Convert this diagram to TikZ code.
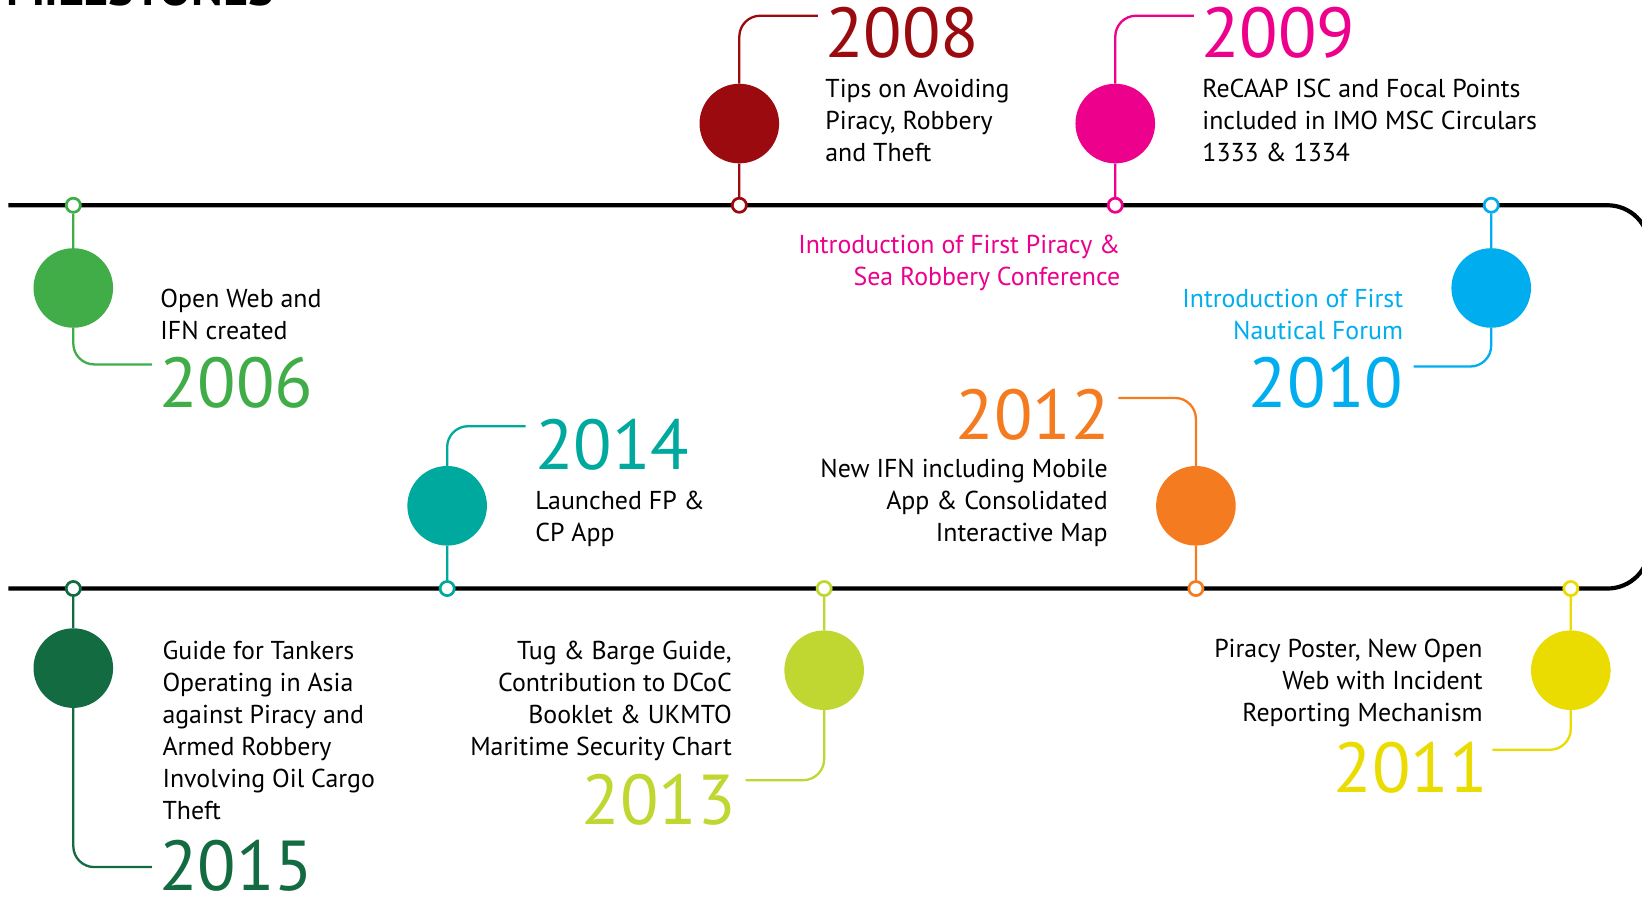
\documentclass[tikz,border=0pt]{standalone}
\usepackage{fontspec}
\setmainfont{PT Sans}
\usetikzlibrary{positioning}

\definecolor{cgreen}{HTML}{40AD48}
\definecolor{cdarkred}{HTML}{9A0A0F}
\definecolor{cmagenta}{HTML}{EC008C}
\definecolor{ccyan}{HTML}{00AEEF}
\definecolor{cyellow}{HTML}{EADB00}
\definecolor{corange}{HTML}{F47B20}
\definecolor{clime}{HTML}{C0D732}
\definecolor{cteal}{HTML}{00A99D}
\definecolor{cdarkgreen}{HTML}{136B41}

\newcommand{\notefont}{\fontsize{24.7}{30.5}\selectfont}
\newcommand{\yearfont}{\fontsize{67.5}{67.5}\selectfont}

\begin{document}
\begin{tikzpicture}[x=1pt, y=-1pt,
		bigdot/.style={circle, fill=#1, minimum size=76pt, inner sep=0pt},
		smalldot/.style={circle, draw=#1, fill=white, line width=2.6pt, minimum size=13.5pt, inner sep=0pt},
		stem/.style={draw=#1, line width=2.2pt, rounded corners=20pt},
		year/.style={text=#1, font=\yearfont, inner sep=0pt},
		note/.style={font=\notefont, inner sep=0pt, align=left, anchor=base west},
		noteright/.style={font=\notefont, inner sep=0pt, align=right, anchor=base east}]
			\useasboundingbox (0,0) rectangle (1568,856);
			\clip (0,0) rectangle (1568,856);
			
			\node[anchor=base east, inner sep=0pt, font=\fontsize{46}{46}\selectfont\bfseries] (title) at (262,5) {MILESTONES};
			
			% the track
			\draw[line width=4pt, rounded corners=40pt] (8,196) -- (1575,196) -- (1575,562) -- (8,562);
			
			% 2006
			\node[smalldot=cgreen] (d06) at (70,196) {};
			\node[bigdot=cgreen] (b06) at (70,275) {};
			\coordinate (e06) at (145,348);
			\draw[stem=cgreen] (d06) -- (b06) |- (e06);
			\node[year=cgreen, anchor=base west] (y06) at (152,389) {2006};
			\node[note] (n06) at (153,324.5) {Open Web and\\IFN created};
			
			% 2008
			\node[smalldot=cdarkred] (d08) at (706,196) {};
			\node[bigdot=cdarkred] (b08) at (706,118) {};
			\coordinate (e08) at (781,15);
			\draw[stem=cdarkred] (d08) -- (b08) |- (e08);
			\node[year=cdarkred, anchor=base west] (y08) at (788,55) {2008};
			\node[note] (n08) at (788,154) {Tips on Avoiding\\Piracy, Robbery\\and Theft};
			
			% 2009
			\node[smalldot=cmagenta] (d09) at (1065,196) {};
			\node[bigdot=cmagenta] (b09) at (1065,118) {};
			\coordinate (e09) at (1140,15);
			\draw[stem=cmagenta] (d09) -- (b09) |- (e09);
			\node[year=cmagenta, anchor=base west] (y09) at (1147,55) {2009};
			\node[note] (n09) at (1148,154) {ReCAAP ISC and Focal Points\\included in IMO MSC Circulars\\1333 \& 1334};
			\node[noteright, text=cmagenta] (m09) at (1070,272.5) {Introduction of First Piracy \&\\Sea Robbery Conference};
			
			% 2010
			\node[smalldot=ccyan] (d10) at (1424,196) {};
			\node[bigdot=ccyan] (b10) at (1424,275) {};
			\coordinate (e10) at (1350,350);
			\draw[stem=ccyan] (d10) -- (b10) |- (e10);
			\node[year=ccyan, anchor=base east] (y10) at (1340,389) {2010};
			\node[noteright, text=ccyan] (n10) at (1340,324.5) {Introduction of First\\Nautical Forum};
			
			% 2011
			\node[smalldot=cyellow] (d11) at (1500,562) {};
			\node[bigdot=cyellow] (b11) at (1500,640) {};
			\coordinate (e11) at (1425,716);
			\draw[stem=cyellow] (d11) -- (b11) |- (e11);
			\node[year=cyellow, anchor=base east] (y11) at (1421,757) {2011};
			\node[noteright] (n11) at (1416,689) {Piracy Poster, New Open\\Web with Incident\\Reporting Mechanism};
			
			% 2012
			\node[smalldot=corange] (d12) at (1142,562) {};
			\node[bigdot=corange] (b12) at (1142,483) {};
			\coordinate (e12) at (1068,380);
			\draw[stem=corange] (d12) -- (b12) |- (e12);
			\node[year=corange, anchor=base east] (y12) at (1060,420) {2012};
			\node[noteright] (n12) at (1058,517) {New IFN including Mobile\\App \& Consolidated\\Interactive Map};
			
			% 2013
			\node[smalldot=clime] (d13) at (787,562) {};
			\node[bigdot=clime] (b13) at (787,640) {};
			\coordinate (e13) at (712,745);
			\draw[stem=clime] (d13) -- (b13) |- (e13);
			\node[year=clime, anchor=base east] (y13) at (703,787) {2013};
			\node[noteright] (n13) at (699,721.5) {Tug \& Barge Guide,\\Contribution to DCoC\\Booklet \& UKMTO\\Maritime Security Chart};
			
			% 2014
			\node[smalldot=cteal] (d14) at (427,562) {};
			\node[bigdot=cteal] (b14) at (427,483) {};
			\coordinate (e14) at (502,407);
			\draw[stem=cteal] (d14) -- (b14) |- (e14);
			\node[year=cteal, anchor=base west] (y14) at (511,448) {2014};
			\node[note] (n14) at (511,517.5) {Launched FP \&\\CP App};
			
			% 2015
			\node[smalldot=cdarkgreen] (d15) at (70,562) {};
			\node[bigdot=cdarkgreen] (b15) at (70,638) {};
			\coordinate (e15) at (145,828);
			\draw[stem=cdarkgreen] (d15) -- (b15) |- (e15);
			\node[year=cdarkgreen, anchor=base west] (y15) at (152,850) {2015};
			\node[note] (n15) at (155,782.5) {Guide for Tankers\\Operating in Asia\\against Piracy and\\Armed Robbery\\Involving Oil Cargo\\Theft};
			
		\end{tikzpicture}
\end{document}
